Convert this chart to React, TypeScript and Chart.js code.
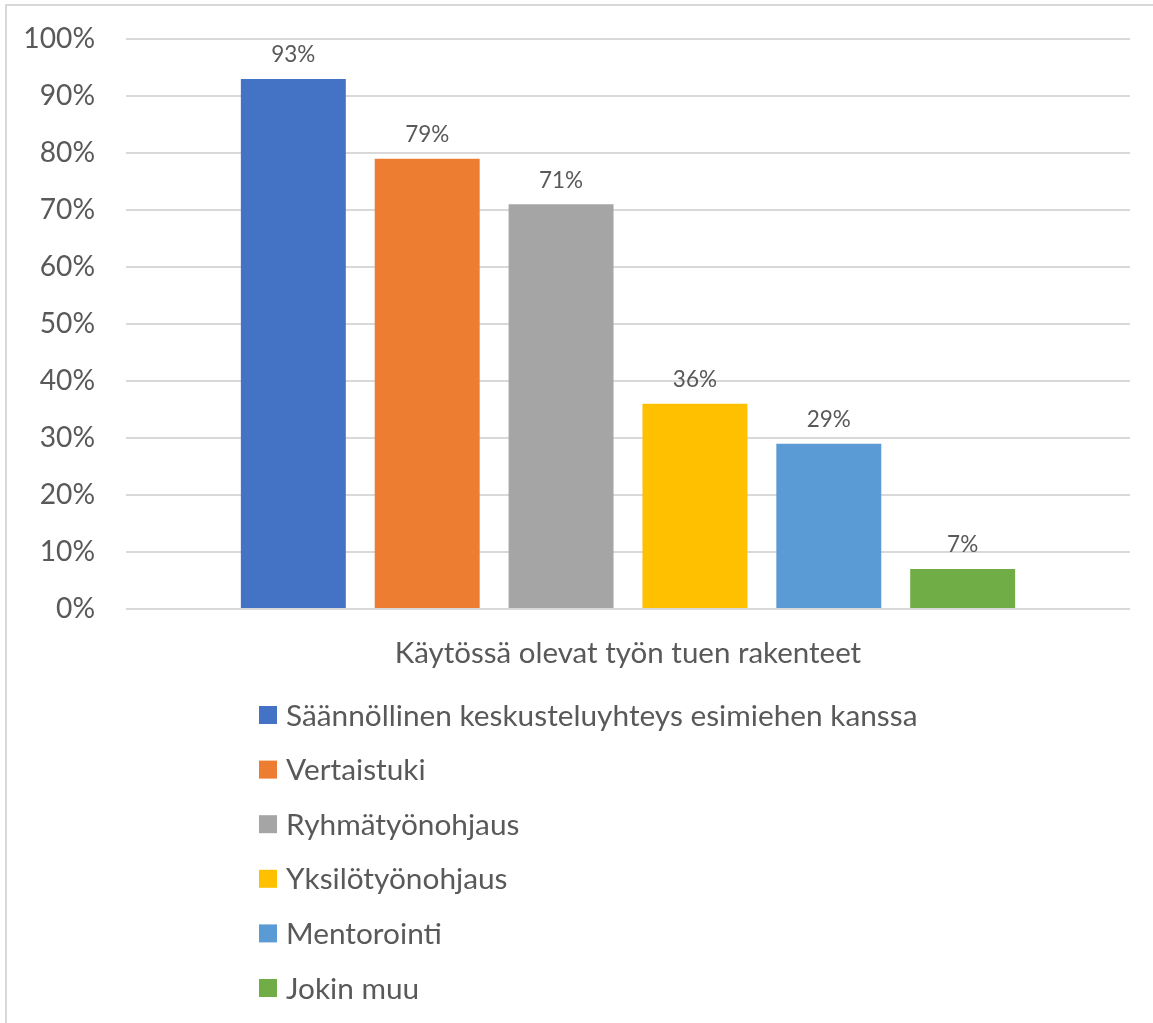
import React, { useEffect, useRef } from "react";
import { Chart, registerables } from "chart.js";

Chart.register(...registerables);

const categories = ["Käytössä olevat työn tuen rakenteet"];
const seriesNames = [
  "Säännöllinen keskusteluyhteys esimiehen kanssa",
  "Vertaistuki",
  "Ryhmätyönohjaus",
  "Yksilötyönohjaus",
  "Mentorointi",
  "Jokin muu",
];
const seriesValues = [93, 79, 71, 36, 29, 7];
const seriesColors = ["#4472C4", "#ED7D31", "#A5A5A5", "#FFC000", "#5B9BD5", "#70AD47"];
const yMin = 0;
const yMax = 100;
const yStep = 10;

const FONT = "Lato";
const TEXT = "#595959";

const dataLabelPlugin = {
  id: "dataLabels",
  afterDatasetsDraw(chart: any) {
    const ctx = chart.ctx;
    ctx.save();
    ctx.font = `22.5px ${FONT}`;
    ctx.fillStyle = TEXT;
    ctx.textAlign = "center";
    ctx.textBaseline = "middle";
    chart.data.datasets.forEach((ds: any, i: number) => {
      const meta = chart.getDatasetMeta(i);
      meta.data.forEach((bar: any, j: number) => {
        ctx.fillText(`${ds.data[j]}%`, bar.x, bar.y - 24);
      });
    });
    ctx.restore();
  },
};

const legendPlugin = {
  id: "vertLegend",
  afterDraw(chart: any) {
    const ctx = chart.ctx;
    const base = chart.chartArea.bottom + 106;
    ctx.save();
    ctx.font = `29.8px ${FONT}`;
    ctx.textAlign = "left";
    ctx.textBaseline = "middle";
    chart.data.datasets.forEach((ds: any, i: number) => {
      const y = base + i * 54.6;
      ctx.fillStyle = ds.backgroundColor;
      ctx.fillRect(259, y - 9, 18, 18);
      ctx.fillStyle = TEXT;
      ctx.fillText(ds.label, 286, y + 1);
    });
    ctx.restore();
  },
};

export default function App() {
  const ref = useRef<HTMLCanvasElement>(null);

  useEffect(() => {
    if (!ref.current) return;
    const chart = new Chart(ref.current, {
      type: "bar",
      data: {
        labels: categories,
        datasets: seriesNames.map((name, i) => ({
          label: name,
          data: [seriesValues[i]],
          backgroundColor: seriesColors[i],
          borderWidth: 0,
          categoryPercentage: 0.8,
          barPercentage: 0.784,
        })),
      },
      options: {
        responsive: false,
        animation: false,
        layout: { padding: { top: 39, left: 0, right: 23, bottom: 0 } },
        plugins: {
          legend: { display: false },
          tooltip: { enabled: false },
        },
        scales: {
          x: {
            grid: { display: false, drawTicks: false },
            border: { display: false },
            ticks: {
              color: TEXT,
              font: { family: FONT, size: 29.5 },
              padding: 27,
              maxRotation: 0,
            },
            afterFit(scale: any) {
              scale.height = 414;
            },
          },
          y: {
            min: yMin,
            max: yMax,
            grid: { color: "#d9d9d9", lineWidth: 2, drawTicks: false },
            border: { display: false },
            ticks: {
              stepSize: yStep,
              color: TEXT,
              font: { family: FONT, size: 28.2 },
              padding: 31,
              callback: (v: any) => `${v}%`,
            },
            afterFit(scale: any) {
              scale.width = 126;
              scale.paddingTop = 0;
              scale.paddingBottom = 0;
            },
          },
        },
      },
      plugins: [dataLabelPlugin, legendPlugin],
    });
    return () => chart.destroy();
  }, []);

  return (
    <div
      style={{
        position: "absolute",
        left: 0,
        top: 0,
        width: 1153,
        height: 1023,
        background: "#ffffff",
        overflow: "hidden",
      }}
    >
      <div
        style={{
          position: "absolute",
          left: 5,
          top: 4,
          width: 1200,
          height: 1100,
          border: "2px solid #d9d9d9",
          boxSizing: "border-box",
        }}
      />
      <canvas
        ref={ref}
        width={1153}
        height={1023}
        style={{ position: "absolute", left: 0, top: 0, width: 1153, height: 1023 }}
      />
    </div>
  );
}
